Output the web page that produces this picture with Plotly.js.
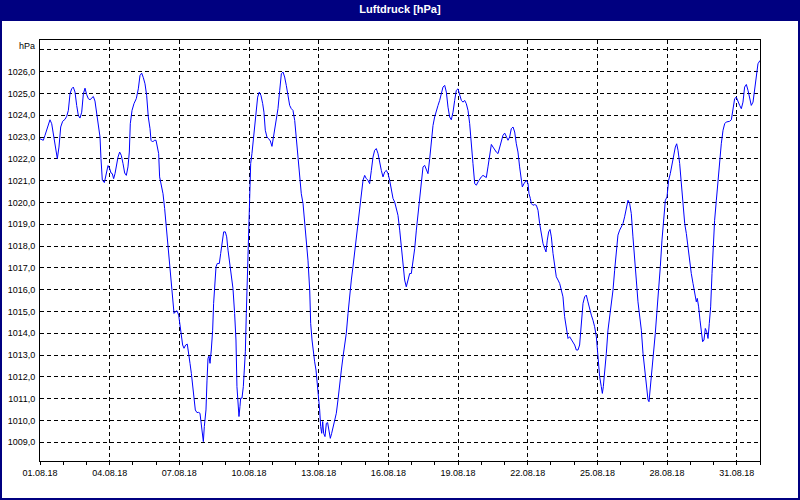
<!DOCTYPE html>
<html>
<head>
<meta charset="utf-8">
<script src="https://cdn.plot.ly/plotly-3.0.1.min.js"></script>
<style>
html,body{margin:0;padding:0;background:#fff;}
#chart{width:800px;height:500px;}
</style>
</head>
<body>
<div id="chart"></div>
<script>
// ---- data ----
const chartTitle = 'Luftdruck [hPa]';
const unitLabel = 'hPa';
const startDate = '2018-08-01 00:00:00';
const endDate = '2018-09-01 00:00:00';
// hours since 01.08.18 00:00
const hours = [
0,3.4,5.2,7.6,10.3,12.1,14.5,16.5,17.9,19.6,21.4,23.4,25.8,27.6,29.3,31.0,32.7,34.4,36.2,37.9,39.6,41.3,43.1,44.8,46.5,48.2,49.9,51.7,53.4,55.1,56.8,58.6,60.3,62.0,63.0,64.4,66.5,68.2,70.3,72.0,73.4,74.7,76.1,77.5,78.9,80.6,82.3,84.0,85.8,87.5,89.2,90.9,92.3,93.3,95.1,97.1,99.5,101.6,103.3,105.1,106.8,108.5,110.2,111.9,113.7,114.7,116.4,118.1,119.9,121.2,
122.6,123.6,125.4,127.1,128.8,130.5,132.3,134.0,135.7,137.4,138.5,139.8,141.6,143.3,144.7,146.0,147.4,148.8,150.5,152.2,153.6,155.0,156.4,157.7,159.1,160.5,162.2,163.9,165.3,166.3,167.7,168.8,169.8,170.5,171.5,172.6,173.6,174.6,175.7,177.0,178.4,179.4,180.5,181.9,183.2,185.3,186.7,188.1,189.8,191.5,192.9,194.3,196.0,197.7,199.4,201.1,202.5,203.5,204.6,205.6,206.6,207.3,208.7,210.1,211.1,212.2,213.2,214.2,215.3,216.0,216.6,217.7,219.0,220.4,221.8,223.2,224.9,226.6,228.3,230.1,231.4,232.8,234.5,236.3,238.0,239.7,241.1,242.5,244.2,
245.9,247.7,249.4,251.1,252.8,254.5,256.3,258.0,259.7,261.4,263.2,264.9,266.6,268.3,270.0,271.8,273.5,275.2,276.9,278.7,279.7,281.1,282.4,283.8,285.2,286.6,287.9,289.0,290.0,291.1,292.1,293.1,294.5,295.9,297.2,298.6,300.0,301.4,302.8,304.5,306.2,307.9,309.6,311.4,313.1,314.8,316.5,318.3,320.0,321.7,323.4,325.1,326.9,328.6,330.3,332.0,333.8,335.5,337.2,338.9,340.6,342.4,344.1,345.8,347.5,349.3,351.0,352.7,354.4,356.2,357.9,359.6,361.3,363.0,364.8,366.5,368.2,
369.9,371.7,373.4,375.1,376.8,378.5,380.3,382.0,383.7,385.4,387.2,388.9,390.6,392.3,394.0,395.8,397.5,399.2,400.9,402.7,404.4,406.1,407.8,409.5,411.3,413.0,414.7,416.4,418.2,419.9,421.6,423.3,425.0,426.8,428.5,430.2,431.9,433.7,435.4,437.1,438.8,440.5,442.3,444.0,445.7,447.4,449.2,450.9,452.6,454.3,456.0,457.8,459.5,461.2,462.9,464.7,466.4,468.1,469.8,471.5,473.3,475.0,476.7,478.4,480.2,481.9,483.6,485.3,487.0,488.8,490.5,492.2,
493.9,495.6,497.4,498.4,500.1,502.5,504.3,505.3,506.7,507.7,509.4,511.1,512.9,514.6,516.3,518.0,519.8,521.5,522.9,524.2,525.6,527.0,528.4,530.1,531.8,533.5,535.3,537.0,538.7,540.4,542.1,543.9,545.6,547.3,549.0,550.8,552.5,554.2,555.9,557.6,559.4,561.1,562.8,564.5,566.2,568.0,569.7,571.4,573.1,574.9,576.6,578.3,580.0,581.1,582.1,583.5,585.2,586.9,588.6,590.2,592.1,593.8,595.5,597.2,599.0,600.7,602.4,604.1,605.9,607.6,609.3,611.0,612.7,614.5,616.2,
617.9,619.7,621.4,623.1,624.8,626.5,628.3,629.3,630.7,632.4,634.1,635.8,637.6,639.3,641.0,642.7,644.5,646.2,647.9,649.6,651.3,653.1,654.8,656.5,657.9,659.3,661.0,662.7,664.4,666.2,667.9,669.6,671.3,673.0,674.8,676.5,678.2,679.2,680.6,682.0,683.4,684.7,686.1,687.5,688.9,690.3,691.6,693.0,694.4,695.8,697.1,698.9,700.6,702.3,704.0,705.8,707.5,709.2,710.9,712.6,714.4,716.1,717.8,719.5,721.3,723.0,724.7,726.4,728.1,729.9,731.6,733.3,735.0,736.8,738.5,740.2,741.9,744.0
];
const pressure = [
1022.92,1022.85,1023.08,1023.46,1023.79,1023.61,1023.00,1022.39,1022.01,1022.54,1023.46,1023.72,1023.81,1023.95,1024.22,1024.98,1025.21,1025.29,1025.06,1024.45,1023.99,1023.87,1024.14,1024.98,1025.24,1024.95,1024.76,1024.71,1024.80,1024.86,1024.65,1024.14,1023.61,1023.00,1022.01,1021.02,1020.91,1021.32,1021.69,1021.55,1021.35,1021.32,1021.09,1021.32,1021.75,1022.08,1022.31,1022.16,1021.78,1021.35,1021.24,1021.63,1022.31,1023.61,1024.22,1024.53,1024.76,1025.21,1025.82,1025.93,1025.72,1025.44,1024.91,1023.92,1023.38,1022.85,1022.77,1022.85,1022.85,1022.54,
1022.24,1021.17,1020.71,1020.40,1019.72,1018.88,1017.96,1017.05,1015.98,1015.37,1014.91,1014.98,1015.03,1014.83,1014.30,1013.92,1013.46,1013.31,1013.46,1013.50,1013.15,1012.62,1012.16,1011.55,1010.94,1010.48,1010.36,1010.37,1010.33,1009.87,1009.26,1009.03,1009.72,1010.02,1010.48,1011.85,1012.85,1012.95,1012.62,1013.23,1014.14,1015.37,1016.28,1017.05,1017.20,1017.20,1017.66,1018.11,1018.65,1018.65,1018.42,1017.81,1017.20,1016.66,1016.05,1014.91,1013.69,1011.55,1010.63,1010.18,1010.63,1011.02,1011.02,1011.55,1012.31,1013.15,1014.91,1016.74,1018.42,1019.49,1020.86,1021.78,1022.24,1022.85,1023.61,1024.37,1024.83,1025.06,1024.91,1024.53,1024.14,1023.31,1023.00,1022.92,1022.82,1022.57,1022.92,1023.31,1023.69,
1024.30,1025.14,1025.90,1025.98,1025.75,1025.37,1024.91,1024.45,1024.30,1024.22,1023.76,1023.00,1022.08,1021.17,1020.40,1019.95,1019.18,1018.27,1017.35,1015.98,1014.45,1013.69,1013.08,1012.69,1012.31,1011.70,1011.24,1010.48,1009.72,1009.41,1009.95,1009.41,1009.26,1009.87,1009.90,1009.49,1009.18,1009.41,1009.72,1009.95,1010.33,1010.94,1011.70,1012.31,1012.92,1013.38,1013.99,1014.91,1015.82,1016.44,1017.05,1017.66,1018.42,1019.18,1019.79,1020.40,1021.02,1021.24,1021.09,1021.02,1020.86,1021.47,1022.08,1022.39,1022.47,1022.24,1021.78,1021.47,1021.17,1021.40,1021.47,1021.32,1021.02,1020.63,1020.18,1020.02,1019.64,
1019.41,1018.73,1017.96,1017.05,1016.44,1016.13,1016.44,1016.74,1016.74,1017.20,1017.89,1018.73,1019.49,1020.10,1021.17,1021.63,1021.70,1021.47,1021.32,1022.01,1022.85,1023.53,1023.92,1024.22,1024.45,1024.68,1024.98,1025.29,1025.37,1025.06,1024.37,1023.92,1023.79,1024.14,1024.68,1025.14,1025.21,1024.98,1024.68,1024.60,1024.68,1024.53,1024.22,1023.61,1022.85,1021.78,1020.86,1020.79,1020.94,1021.09,1021.17,1021.24,1021.17,1021.14,1021.63,1022.24,1022.66,1022.54,1022.39,1022.31,1022.24,1022.54,1022.92,1023.08,1023.18,1023.00,1022.85,1023.00,1023.38,1023.46,1023.23,1022.69,
1022.31,1021.63,1021.02,1020.71,1020.86,1021.02,1020.86,1020.40,1020.18,1019.95,1019.87,1019.90,1019.87,1019.64,1019.03,1018.57,1018.11,1017.89,1017.73,1018.27,1018.65,1018.76,1018.42,1017.66,1017.05,1016.59,1016.44,1016.28,1015.98,1015.67,1014.76,1014.14,1013.76,1013.84,1013.73,1013.61,1013.46,1013.23,1013.23,1013.46,1014.60,1015.37,1015.67,1015.75,1015.44,1015.06,1014.83,1014.60,1014.30,1013.84,1012.77,1012.01,1011.55,1011.24,1011.55,1012.16,1013.08,1014.14,1014.76,1015.37,1015.98,1016.89,1017.81,1018.50,1018.73,1018.88,1019.03,1019.34,1019.79,1020.10,1019.95,1019.49,1018.42,1017.20,1016.44,
1015.44,1014.76,1014.14,1013.08,1012.31,1011.55,1010.94,1010.86,1011.55,1012.31,1012.92,1013.99,1015.06,1015.98,1017.05,1018.27,1019.34,1020.10,1020.25,1021.02,1021.32,1021.78,1022.24,1022.54,1022.69,1022.39,1021.78,1020.86,1019.95,1019.03,1018.57,1017.96,1017.20,1016.74,1016.28,1015.82,1015.44,1015.60,1015.21,1014.60,1013.99,1013.61,1013.69,1014.22,1014.07,1013.76,1014.45,1015.21,1016.74,1018.11,1019.18,1020.10,1021.02,1022.08,1022.69,1023.31,1023.61,1023.69,1023.69,1023.72,1023.79,1024.37,1024.76,1024.83,1024.60,1024.45,1024.30,1024.60,1025.29,1025.41,1025.14,1024.76,1024.45,1024.60,1025.14,1025.90,1026.36,1026.51
];
const yTickValues = [1009,1010,1011,1012,1013,1014,1015,1016,1017,1018,1019,1020,1021,1022,1023,1024,1025,1026,1027];
const yRange = [1008.14, 1027.45];

// ---- build ----
const t0 = Date.UTC(2018, 7, 1, 0, 0, 0);
function isoAt(h) {
  return new Date(t0 + h * 3600000).toISOString().replace('T', ' ').slice(0, 19);
}
const xDates = hours.map(isoAt);
const yTickText = yTickValues.map(v => v === 1027 ? '' : v.toFixed(1).replace('.', ','));

const FONT = 'Liberation Sans, Arial, sans-serif';
const NAVY = '#000080';

// pixel -> paper helpers (plot area 40..760 x 40..461)
const L = 40, R = 40, T = 40, B = 39, W = 800, H = 500;
const pw = W - L - R, ph = H - T - B;
const px = x => (x - L) / pw;
const py = y => (H - B - y) / ph;

const trace = {
  x: xDates, y: pressure, type: 'scatter', mode: 'lines',
  line: {color: '#0000ff', width: 1}, hoverinfo: 'skip'
};

const layout = {
  width: W, height: H,
  margin: {l: L, r: R, t: T, b: B, pad: 0},
  paper_bgcolor: '#ffffff', plot_bgcolor: '#ffffff',
  showlegend: false,
  separators: ',.',
  font: {family: FONT, size: 9, color: '#000000'},
  title: {
    text: chartTitle, x: 0.5, xref: 'paper', xanchor: 'center',
    y: 1 - 9.5 / H, yref: 'container', yanchor: 'middle',
    font: {family: FONT, size: 11, color: '#ffffff', weight: 'bold'}
  },
  xaxis: {
    type: 'date', range: [startDate, endDate], autorange: false,
    tick0: startDate, dtick: 3 * 86400000, tickformat: '%d.%m.%y',
    showgrid: true, gridcolor: '#000000', gridwidth: 1, griddash: '4px,3px',
    showline: true, linecolor: '#000000', linewidth: 1, mirror: true,
    ticks: 'outside', ticklen: 3, tickcolor: '#000000', tickwidth: 1,
    minor: {dtick: 86400000, ticks: 'outside', ticklen: 3, tickcolor: '#000000', showgrid: false},
    zeroline: false, fixedrange: true,
    tickfont: {family: FONT, size: 9, color: '#000000'}
  },
  yaxis: {
    range: yRange, autorange: false,
    tickmode: 'array', tickvals: yTickValues, ticktext: yTickText,
    showgrid: true, gridcolor: '#000000', gridwidth: 1, griddash: '4px,3px',
    showline: true, linecolor: '#000000', linewidth: 1, mirror: true,
    ticks: '', ticklabelstandoff: 2, zeroline: false, fixedrange: true,
    tickfont: {family: FONT, size: 9, color: '#000000'}
  },
  shapes: [
    {type: 'rect', xref: 'paper', yref: 'paper', layer: 'below',
     x0: px(0), x1: px(W), y0: py(21), y1: py(0),
     fillcolor: NAVY, line: {width: 0}},
    {type: 'rect', xref: 'paper', yref: 'paper', layer: 'above',
     x0: px(1), x1: px(W - 1), y0: py(H - 1), y1: py(1),
     fillcolor: 'rgba(0,0,0,0)', line: {color: NAVY, width: 2}}
  ],
  annotations: [
    {text: unitLabel, xref: 'paper', x: 0, xanchor: 'right', xshift: -3,
     yref: 'y', y: 1027, yanchor: 'middle', yshift: 4, showarrow: false,
     font: {family: FONT, size: 9, color: '#000000'}}
  ]
};

Plotly.newPlot('chart', [trace], layout, {displayModeBar: false, staticPlot: true});
</script>
</body>
</html>
